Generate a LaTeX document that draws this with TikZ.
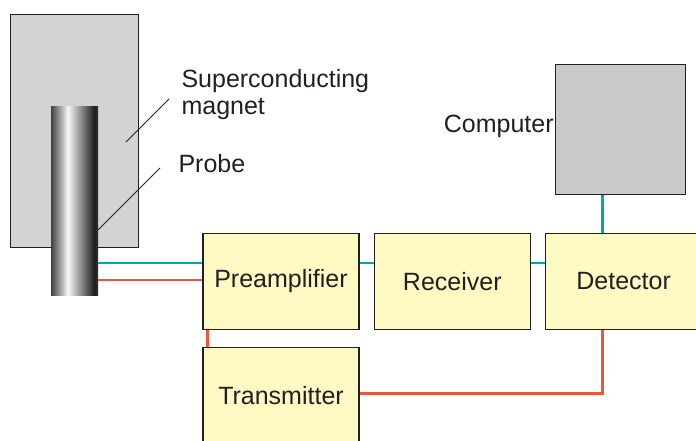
\documentclass[tikz,border=0pt]{standalone}
\usepackage{fontspec}
\setmainfont{Liberation Sans}
\usetikzlibrary{positioning}
\definecolor{magnetgray}{HTML}{D1D3D4}
\definecolor{compgray}{HTML}{C9CACC}
\definecolor{boxyellow}{HTML}{FFF9C4}
\definecolor{sigteal}{HTML}{00A9A9}
\definecolor{pulsered}{HTML}{EF553A}
\definecolor{inkgray}{HTML}{231F20}
\pgfdeclarehorizontalshading{probeshade}{100bp}{color(0bp)=(black!75); color(25bp)=(black!75); color(43bp)=(black!3); color(71bp)=(black!88); color(75bp)=(black!82); color(100bp)=(black!82)}

\begin{document}
\begin{tikzpicture}[x=1pt, y=1pt, every node/.style={font=\fontsize{25}{28}\selectfont, text=inkgray},
	unit/.style={draw=inkgray, line width=1.3pt, fill=boxyellow, minimum width=156pt, minimum height=96pt, inner sep=0pt},
	sig/.style={sigteal, line width=2.6pt}, pulse/.style={pulsered, line width=2.6pt}]
	\useasboundingbox (0,0) rectangle (696,440);
	\node[draw=inkgray, line width=1.3pt, fill=magnetgray, minimum width=128pt, minimum height=233pt, inner sep=0pt] (magnet) at (74.5,309) {};
	\node[shading=probeshade, minimum width=47pt, minimum height=188pt, inner sep=0pt] (probe) at (74.5,239) {};
	\node[anchor=base west, align=left] (maglabel) at (178,325) {Superconducting\\magnet};
	\node[anchor=base west] (probelabel) at (175,268) {Probe};
	\coordinate (magtip) at (126,298); \coordinate (magend) at (169,341);
	\coordinate (probetip) at (93,205); \coordinate (probeend) at (160,272);
	\draw[inkgray, line width=0.8pt] (magtip) -- (magend);
	\draw[inkgray, line width=0.8pt] (probetip) -- (probeend);
	\node[unit] (preamp) at (281,158.5) {Preamplifier};
	\node[unit, right=14pt of preamp] (receiver) {Receiver};
	\node[unit, right=14pt of receiver] (detector) {Detector};
	\node[unit, below=17pt of preamp] (transmitter) {Transmitter};
	\node[draw=inkgray, line width=1.3pt, fill=compgray, minimum size=130pt, inner sep=0pt,
		label={[inner sep=1pt, yshift=3pt]left:Computer}] (computer) at (620.5,310.5) {};
	\draw[sig] (probe.east |- 0,177) -- (preamp.west |- 0,177);
	\draw[pulse] (probe.east |- 0,160) -- (preamp.west |- 0,160);
	\draw[sig] (preamp.east |- 0,177) -- (receiver.west |- 0,177);
	\draw[sig] (receiver.east |- 0,177) -- (detector.west |- 0,177);
	\draw[sig] ([xshift=-21pt]detector.north) -- ([xshift=-21pt]detector.north |- computer.south);
	\draw[pulse] ([xshift=5pt]preamp.south west) -- ([xshift=5pt]transmitter.north west);
	\draw[pulse] ([yshift=2.5pt]transmitter.east) -| ([xshift=-21pt]detector.south);
\end{tikzpicture}
\end{document}
